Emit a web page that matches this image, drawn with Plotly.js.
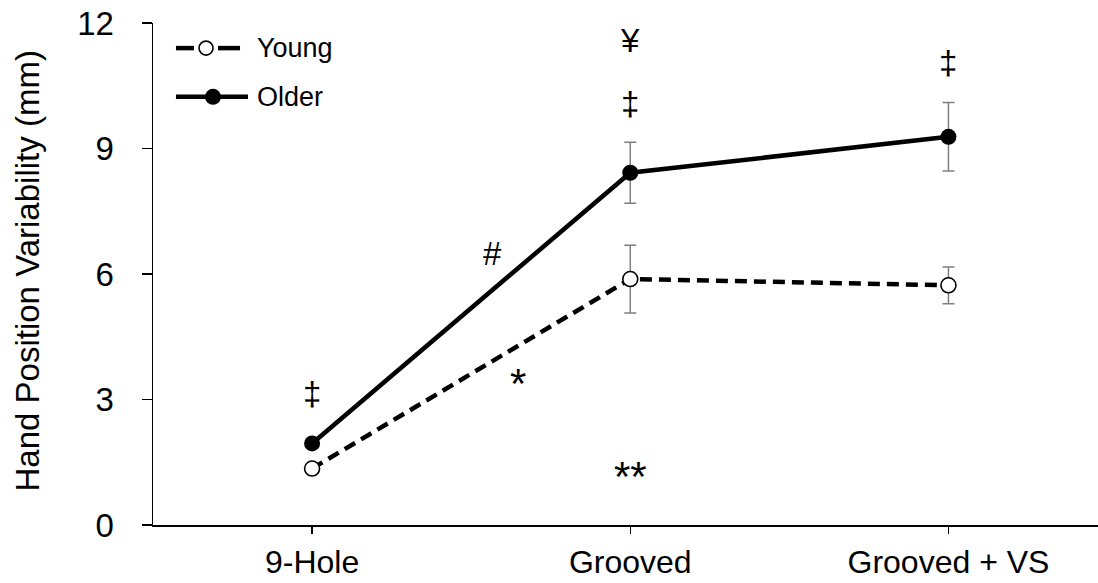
<!DOCTYPE html>
<html>
<head>
<meta charset="utf-8">
<script src="https://cdn.plot.ly/plotly-3.0.1.min.js"></script>
<style>
  html, body { margin: 0; padding: 0; background: #fff; }
  #chart { width: 1098px; height: 583px; }
</style>
</head>
<body>
<div id="chart"></div>
<script>
// Task conditions on the x axis
const conditions = ['9-Hole', 'Grooved', 'Grooved + VS'];

// Mean hand position variability (mm) and error bar half-widths
const youngMean = [1.35, 5.88, 5.73];
const youngErr  = [0.10, 0.81, 0.44];
const olderMean = [1.95, 8.42, 9.28];
const olderErr  = [0.10, 0.73, 0.82];

const yTicks = [0, 3, 6, 9, 12];

// Significance markers: [condition index position, y value, symbol, font size]
const marks = [
  [0,     3.15,  '‡',  33],
  [1,     10.08, '‡',  33],
  [1,     11.59, '¥',  33],
  [2,     11.06, '‡',  33],
  [0.566, 6.48,  '#',  33],
  [0.648, 3.38,  '*',  42],
  [1,     1.15,  '**', 42]
];

const FONT = 'Liberation Sans, Arial, sans-serif';
const errStyle = { type: 'data', visible: true, color: '#7f7f7f', thickness: 1.5, width: 6 };

const traces = [
  {
    x: [0, 1, 2], y: olderMean, name: 'Older', type: 'scatter', mode: 'lines+markers',
    line: { color: '#000', width: 4.5 },
    marker: { color: '#000', size: 16, line: { color: '#000', width: 0 } },
    error_y: Object.assign({ array: olderErr }, errStyle),
    cliponaxis: false
  },
  {
    x: [0, 1, 2], y: youngMean, name: 'Young', type: 'scatter', mode: 'lines+markers',
    line: { color: '#000', width: 4.5, dash: '12px,7px' },
    marker: { color: '#fff', size: 15, line: { color: '#000', width: 1.6 } },
    error_y: Object.assign({ array: youngErr }, errStyle),
    cliponaxis: false
  }
];

const annotations = marks.map(m => ({
  x: m[0], y: m[1], xref: 'x', yref: 'y', text: m[2], showarrow: false,
  xanchor: 'center', yanchor: 'middle',
  font: { family: FONT, size: m[3], color: '#000' }
}));

// Y axis title
annotations.push({
  x: 0, y: 0.505, xref: 'paper', yref: 'paper', xshift: -126,
  text: 'Hand Position Variability (mm)', textangle: -90, showarrow: false,
  xanchor: 'center', yanchor: 'middle',
  font: { family: FONT, size: 33, color: '#000' }
});

// Legend drawn from shapes + labels
const legRows = [
  { y: 0.950, label: 'Young', dashed: true,  cx: 0.0561, fill: '#fff' },
  { y: 0.853, label: 'Older', dashed: false, cx: 0.0635, fill: '#000' }
];
const shapes = [];
legRows.forEach(r => {
  if (r.dashed) {
    shapes.push({ type: 'line', xref: 'paper', yref: 'paper', x0: 0.0243, x1: 0.0434, y0: r.y, y1: r.y,
      line: { color: '#000', width: 4.5 } });
    shapes.push({ type: 'line', xref: 'paper', yref: 'paper', x0: 0.0688, x1: 0.0921, y0: r.y, y1: r.y,
      line: { color: '#000', width: 4.5 } });
  } else {
    shapes.push({ type: 'line', xref: 'paper', yref: 'paper', x0: 0.0243, x1: 0.1005, y0: r.y, y1: r.y,
      line: { color: '#000', width: 4.5 } });
  }
  const rad = r.dashed ? 7 : 8;
  shapes.push({ type: 'circle', xref: 'paper', yref: 'paper', xsizemode: 'pixel', ysizemode: 'pixel',
    xanchor: r.cx, yanchor: r.y, x0: -rad, x1: rad, y0: -rad, y1: rad,
    fillcolor: r.fill, line: { color: '#000', width: r.dashed ? 1.6 : 0 } });
  annotations.push({ x: 0.108, y: r.y, xref: 'paper', yref: 'paper', text: r.label, showarrow: false,
    xanchor: 'left', yanchor: 'middle', font: { family: FONT, size: 27, color: '#000' } });
});

const layout = {
  width: 1098, height: 583,
  margin: { l: 153, r: 0, t: 23, b: 58, pad: 0 },
  paper_bgcolor: '#fff', plot_bgcolor: '#fff',
  showlegend: false,
  font: { family: FONT, size: 33, color: '#000' },
  xaxis: {
    range: [-0.5, 2.47], tickvals: [0, 1, 2], ticktext: conditions,
    showgrid: false, zeroline: false, showline: true, linecolor: '#000', linewidth: 1.5,
    ticks: 'outside', ticklen: 7, tickwidth: 1.5, tickcolor: '#000',
    ticklabelstandoff: 1, tickfont: { family: FONT, size: 32, color: '#000' }, fixedrange: true
  },
  yaxis: {
    range: [0, 12], tickvals: yTicks, ticktext: yTicks.map(String),
    showgrid: false, zeroline: false, showline: true, linecolor: '#000', linewidth: 1.5,
    ticks: 'outside', ticklen: 10, tickwidth: 1.5, tickcolor: '#000',
    ticklabelstandoff: 21, tickfont: { family: FONT, size: 33, color: '#000' }, fixedrange: true
  },
  annotations: annotations,
  shapes: shapes
};

Plotly.newPlot('chart', traces, layout, { staticPlot: true, displayModeBar: false });
</script>
</body>
</html>
